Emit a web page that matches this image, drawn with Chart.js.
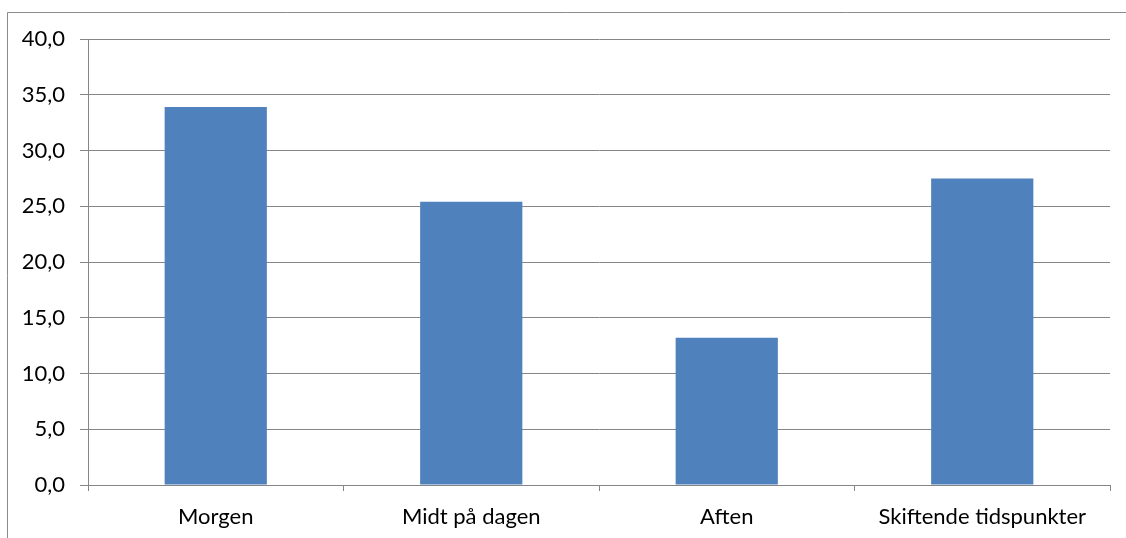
<!DOCTYPE html>
<html>
<head>
<meta charset="utf-8">
<script src="https://cdn.jsdelivr.net/npm/chart.js@4/dist/chart.umd.min.js"></script>
<style>
  html, body { margin: 0; padding: 0; background: #fff; }
  #wrap { width: 1126px; height: 538px; position: relative; }
</style>
</head>
<body>
<div id="wrap"><canvas id="c" width="1126" height="538"></canvas></div>
<script>
// Categories and values (percent)
const categories = ['Morgen', 'Midt på dagen', 'Aften', 'Skiftende tidspunkter'];
const values = [33.9, 25.4, 13.2, 27.5];
const yTicks = [0, 5, 10, 15, 20, 25, 30, 35, 40];

const gridGray = '#868686';
const fontFamily = 'Lato, "Liberation Sans", sans-serif';

// Thin frame along the top and left edges of the chart box
const framePlugin = {
  id: 'frame',
  beforeDraw(chart) {
    const ctx = chart.ctx;
    ctx.save();
    ctx.strokeStyle = '#8c8c8c';
    ctx.lineWidth = 1;
    ctx.beginPath();
    ctx.moveTo(7.5, chart.height);
    ctx.lineTo(7.5, 12.5);
    ctx.lineTo(chart.width, 12.5);
    ctx.stroke();
    ctx.restore();
  }
};

new Chart(document.getElementById('c'), {
  type: 'bar',
  data: {
    labels: categories,
    datasets: [{
      data: values,
      backgroundColor: '#4F81BD',
      borderWidth: 0,
      categoryPercentage: 1,
      barPercentage: 0.4
    }]
  },
  options: {
    responsive: false,
    animation: false,
    layout: { padding: { top: 39, right: 16, left: 0, bottom: 0 } },
    plugins: { legend: { display: false }, tooltip: { enabled: false } },
    scales: {
      x: {
        grid: {
          display: true,
          drawOnChartArea: false,
          drawTicks: true,
          tickLength: 6,
          color: gridGray,
          offset: true
        },
        border: { display: true, color: gridGray, width: 1 },
        ticks: {
          color: '#000',
          font: { family: fontFamily, size: 22 },
          padding: 13,
          maxRotation: 0
        },
        afterFit(scale) { scale.height = 53; }
      },
      y: {
        min: 0,
        max: 40,
        afterBuildTicks(scale) { scale.ticks = yTicks.map(v => ({ value: v })); },
        grid: {
          color: gridGray,
          drawTicks: true,
          tickLength: 8
        },
        border: { display: true, color: gridGray, width: 1 },
        ticks: {
          color: '#000',
          font: { family: fontFamily, size: 22 },
          padding: 15,
          callback: v => v.toFixed(1).replace('.', ',')
        },
        afterFit(scale) { scale.width = 88; }
      }
    }
  },
  plugins: [framePlugin]
});
</script>
</body>
</html>
